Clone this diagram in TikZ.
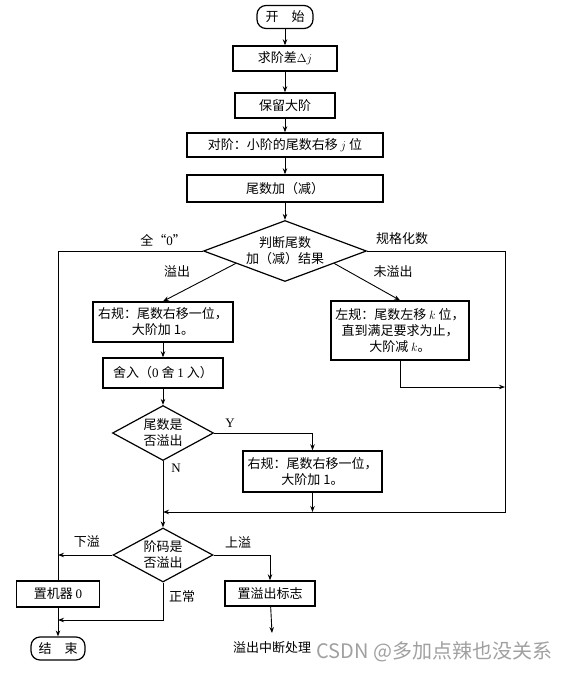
\documentclass[tikz,border=0pt]{standalone}
\usepackage{fontspec}
\setmainfont{Noto Sans CJK SC}
\newfontfamily\serifnum{Liberation Serif}
\usepackage{tikz}
\usetikzlibrary{shapes.geometric,arrows.meta,calc}

\begin{document}
\begin{tikzpicture}[x=1pt, y=-1pt,
		font=\fontsize{13}{16}\selectfont,
		line width=0.9pt,
		>={Stealth[length=6pt,width=4.5pt]},
		block/.style={draw, rectangle, line width=1.4pt, align=center, inner sep=1pt},
		term/.style={draw, rectangle, line width=1.2pt, rounded corners=9pt, inner sep=1pt},
		judge/.style={draw, diamond, line width=1.2pt, align=center, inner sep=0pt},
		tag/.style={inner sep=0pt},
		letter/.style={inner sep=0pt, font=\fontsize{13}{16}\serifnum},
		wmark/.style={inner sep=0pt, anchor=west, text={rgb,255:red,160;green,160;blue,160},
			font=\fontsize{20}{20}\selectfont}]

	\useasboundingbox (0,0) rectangle (564,673);

	\node [term, minimum width=56pt, minimum height=23pt] (start) at (285,17) {开\quad 始};
	\node [block, minimum width=104pt, minimum height=25pt] (delta) at (285,58.5) {求阶差$\Delta j$};
	\node [block, minimum width=100pt, minimum height=25pt] (keep) at (285,105.5) {保留大阶};
	\node [block, minimum width=196pt, minimum height=24pt] (align) at (285,145) {对阶：小阶的尾数右移 $j$ 位};
	\node [block, minimum width=196pt, minimum height=27pt] (add) at (285,188.5) {尾数加（减）};
	\node [judge, minimum width=163pt, minimum height=61pt, aspect=2.67] (result) at (285,251) {判断尾数\\加（减）结果};

	\node [block, minimum width=140pt, minimum height=40pt] (rightA) at (163,322) {右规：尾数右移一位，\\大阶加 1。};
	\node [block, minimum width=120pt, minimum height=30pt] (round) at (163,373) {舍入（{\serifnum 0} 舍 {\serifnum 1} 入）};
	\node [block, minimum width=138pt, minimum height=59pt] (leftN) at (400,330.5) {左规：尾数左移 $k$ 位，\\直到满足要求为止，\\大阶减 $k$。};
	\node [judge, minimum width=101pt, minimum height=55pt, aspect=1.84] (ovf) at (163,433) {尾数是\\否溢出};
	\node [block, minimum width=139pt, minimum height=41pt] (rightB) at (312.5,471.5) {右规：尾数右移一位，\\大阶加 1。};

	\node [judge, minimum width=100pt, minimum height=54pt, aspect=1.85] (expo) at (163,555) {阶码是\\否溢出};
	\node [block, minimum width=83pt, minimum height=26pt] (zero) at (58,594) {置机器 {\serifnum 0}};
	\node [block, minimum width=90pt, minimum height=25pt] (flag) at (270,593.5) {置溢出标志};
	\node [term, minimum width=54pt, minimum height=23pt] (stop) at (58,648.5) {结\quad 束};
	\node [tag] (intr) at (272,648) {溢出中断处理};
	\node [wmark] (wm) at (316,652) {CSDN @多加点辣也没关系};

	\node [tag] (allzero) at (163,240) {全“{\serifnum 0}”};
	\node [tag] (normed) at (402,239) {规格化数};
	\node [tag] (ovfl) at (177,272) {溢出};
	\node [tag] (noovf) at (393,272) {未溢出};
	\node [letter] (yes) at (230,423) {Y};
	\node [letter] (no) at (176,468) {N};
	\node [tag] (under) at (87,542) {下溢};
	\node [tag] (over) at (238,542) {上溢};
	\node [tag] (normal) at (182,597) {正常};

	\coordinate (mergeR) at (505,512);
	\coordinate (mergeL) at (ovf.south |- mergeR);
	\coordinate (mergeM) at (rightB.south |- mergeR);
	\coordinate (leftin) at (505,387);
	\coordinate (downin) at (expo.west -| zero.north);
	\coordinate (okin) at (58,620);
	\coordinate (intrin) at (272,633);

	\draw [->] (start) -- (delta);
	\draw [->] (delta) -- (keep);
	\draw [->] (keep) -- (align);
	\draw [->] (align) -- (add);
	\draw [->] (add) -- (result);
	\draw (result.west) -| (zero.north);
	\draw [->] ($(result.west)!0.4!(result.south)$) -- (rightA.north);
	\draw [->] ($(result.east)!0.4!(result.south)$) -- (leftN.north);
	\draw [->] (result.east) -| (mergeR) -- (mergeL);
	\draw [->] (leftN.south) |- (leftin);
	\draw [->] (rightA) -- (round);
	\draw [->] (round) -- (ovf);
	\draw [->] (ovf.east) -| (rightB.north);
	\draw [->] (rightB.south) -- (mergeM);
	\draw [->] (ovf) -- (expo);
	\draw [->] (expo.west) -- (downin);
	\draw [->] (expo.east) -| (flag.north);
	\draw [->] (expo.south) |- (okin);
	\draw [->] (zero) -- (stop);
	\draw [->] (flag) -- (intrin);

\end{tikzpicture}
\end{document}
